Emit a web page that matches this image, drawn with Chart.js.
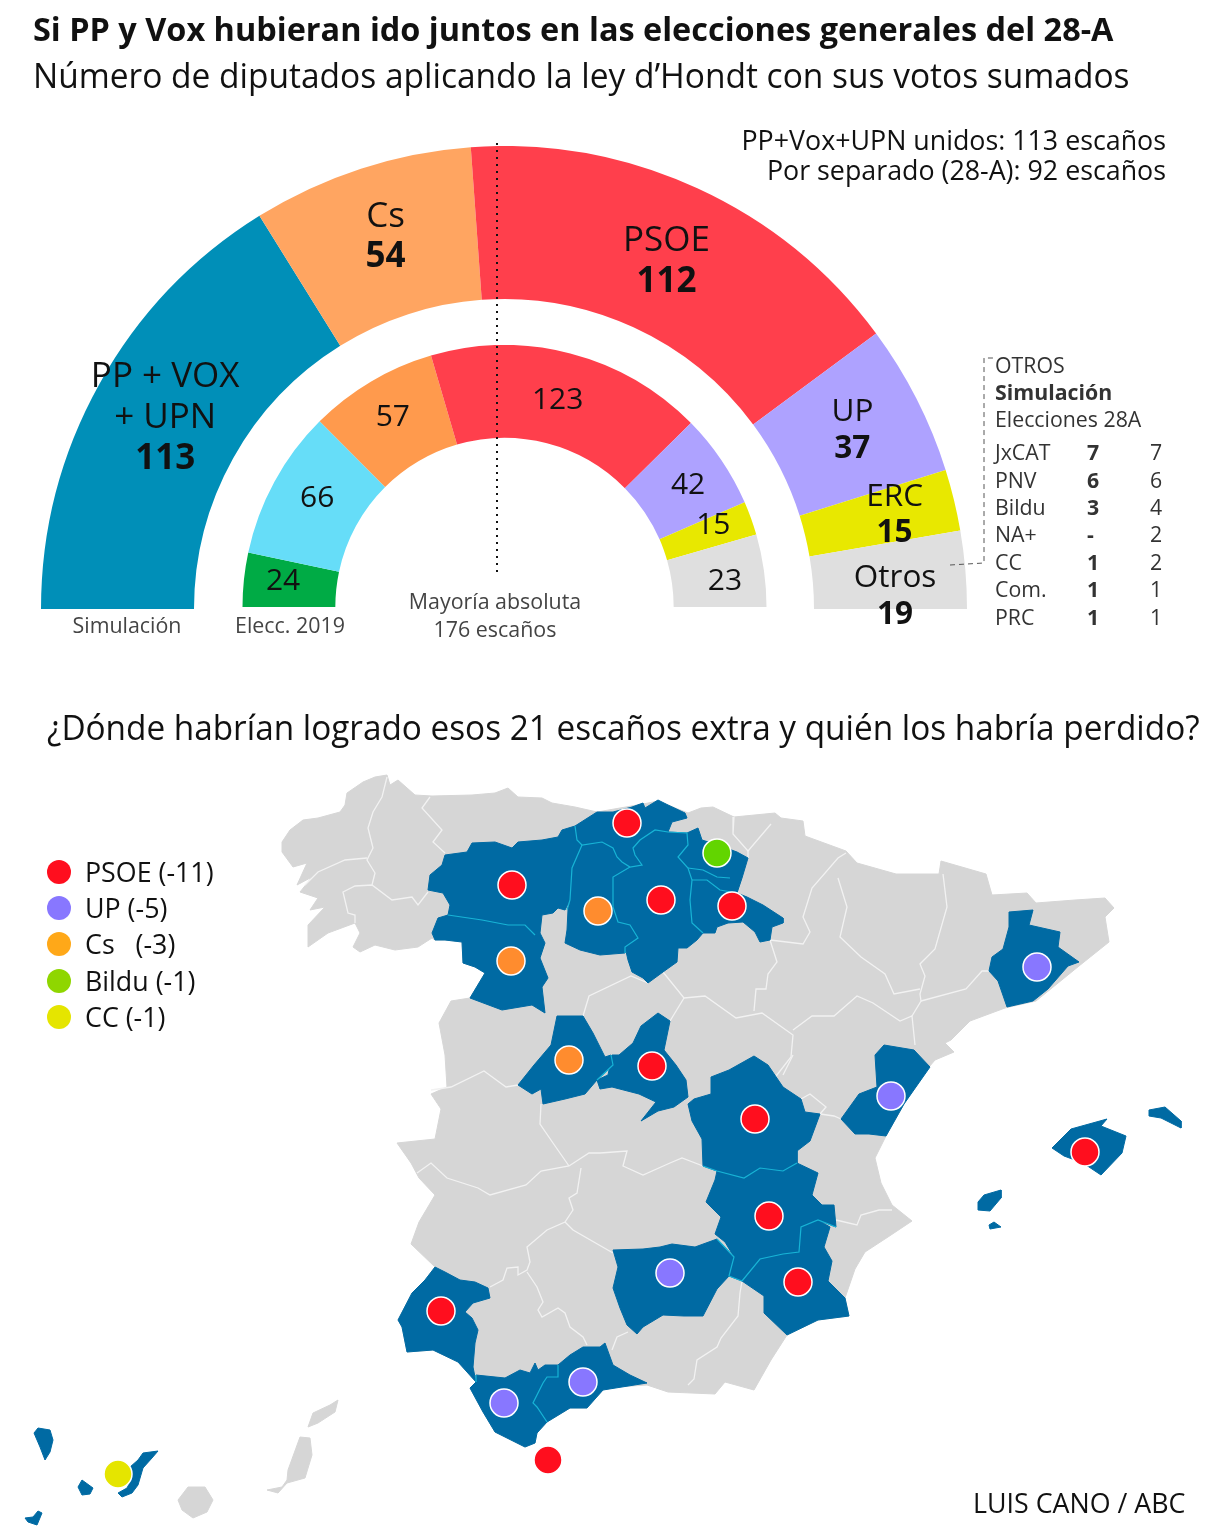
<!DOCTYPE html>
<html>
<head>
<meta charset="utf-8">
<script src="https://cdn.jsdelivr.net/npm/chart.js@4"></script>
<style>
html, body { margin: 0; padding: 0; background: #fff; }
body { position: relative; width: 1211px; height: 1529px; overflow: hidden; font-family: "Open Sans", sans-serif; color: #111; }
canvas { position: absolute; }
.t { position: absolute; white-space: nowrap; transform-origin: left center; }
.small { font-size: 21.4px; color: #444; line-height: 24px; }
.c { transform: translateX(-50%); }
</style>
</head>
<body>
<canvas id="outerRing" width="926" height="493" style="left:41px;top:146px"></canvas>
<canvas id="innerRing" width="525" height="292" style="left:242px;top:345px"></canvas>
<canvas id="mapa" width="1211" height="1529" style="left:0;top:0"></canvas>

<div class="t" style="left:33px;top:7px;font-size:33px;line-height:44px;font-weight:700;transform:scaleX(.983)">Si PP y Vox hubieran ido juntos en las elecciones generales del 28-A</div>
<div class="t" style="left:33px;top:53px;font-size:34px;line-height:44px;transform:scaleX(.985)">Número de diputados aplicando la ley d’Hondt con sus votos sumados</div>
<div class="t" style="right:45px;top:125px;font-size:26.8px;line-height:30px;text-align:right">PP+Vox+UPN unidos: 113 escaños<br>Por separado (28-A): 92 escaños</div>
<div class="t small c" style="left:127px;top:613px">Simulación</div>
<div class="t small c" style="left:290px;top:613px">Elecc. 2019</div>
<div class="t small c" style="left:495px;top:587px;line-height:28px;text-align:center">Mayoría absoluta<br>176 escaños</div>
<div class="t" style="left:47px;top:705px;font-size:34px;line-height:44px;transform:scaleX(.98)">¿Dónde habrían logrado esos 21 escaños extra y quién los habría perdido?</div>
<div class="t" style="left:973px;top:1485px;font-size:26.8px;line-height:36px">LUIS CANO / ABC</div>
<div id="otros"></div>
<div id="leyenda"></div>

<script>
// hemiciclo
const outerParties = ['PP + VOX\n+ UPN', 'Cs', 'PSOE', 'UP', 'ERC', 'Otros'];
const outerSeats = [113, 54, 112, 37, 15, 19];
const outerColors = ['#008fb8', '#ffa561', '#ff3f4c', '#aea2ff', '#e8e800', '#dfdfdf'];
const outerNudge = [[-1, -3], [1, -4], [1, 4], [4, -3], [15, -3], [6, 20]];
const outerFontSizes = [35, 35, 35, 31.5, 31.5, 31.5];
const outerLeading = [41, 40, 41, 37, 36, 37];

// en el original la porcion gris mide unos 32 aunque rotula 23
const innerArcs = [24, 66, 57, 123, 42, 15, 32];
const innerSeats = [24, 66, 57, 123, 42, 15, 23];
const innerColors = ['#00ab45', '#66ddf8', '#ff9a4d', '#ff3f4c', '#aea2ff', '#e8e800', '#dfdfdf'];
const innerNudge = [[-7, -3], [2, -5], [-2, -4], [-1, 2], [5, -1], [6, -9], [7, 5]];

// tabla de otros
const otrosNames = ['JxCAT', 'PNV', 'Bildu', 'NA+', 'CC', 'Com.', 'PRC'];
const otrosSim = ['7', '6', '3', '-', '1', '1', '1'];
const otrosElec = ['7', '6', '4', '2', '2', '1', '1'];

// leyenda del mapa
const legendNames = ['PSOE (-11)', 'UP (-5)', 'Cs\u00a0\u00a0 (-3)', 'Bildu (-1)', 'CC (-1)'];
const legendDots = [[59, 872], [59, 908], [59, 944], [59, 981], [59, 1017]];
const legendColors = ['#ff0e1e', '#8877ff', '#ffa818', '#8fd600', '#e5e500'];

// puntos por partido, en unidades del mapa
const dotsPSOE = [[627, 823], [512, 885], [661, 900], [732, 906], [652, 1066], [755, 1119], [769, 1216], [798, 1282], [441, 1311], [548, 1460], [1085, 1152]];
const dotsUP = [[670, 1273], [504, 1403], [583, 1382], [1037, 967], [891, 1096]];
const dotsCs = [[598, 911], [511, 961], [569, 1060]];
const dotsBildu = [[717, 853]];
const dotsCC = [[118, 1474]];

// contornos del mapa
const peninsula = [[282,842],[290,830],[303,820],[318,818],[340,812],[345,805],[347,793],[363,782],[375,777],[387,775],[390,785],[398,780],[415,795],[432,796],[472,795],[495,793],[508,788],[518,797],[542,798],[552,803],[575,807],[597,812],[643,804],[658,801],[688,813],[701,808],[713,807],[734,817],[775,813],[781,818],[803,821],[805,836],[846,851],[857,863],[896,874],[939,874],[941,861],[986,874],[992,895],[1027,893],[1036,903],[1075,900],[1105,898],[1114,908],[1105,917],[1109,942],[1079,966],[1036,1001],[1005,1008],[970,1021],[951,1040],[945,1043],[954,1052],[935,1060],[929,1067],[904,1104],[886,1136],[875,1158],[881,1183],[892,1205],[912,1221],[888,1237],[865,1252],[855,1269],[845,1298],[849,1316],[818,1320],[787,1335],[771,1360],[754,1390],[725,1382],[715,1394],[668,1392],[647,1385],[616,1387],[603,1390],[587,1408],[570,1408],[547,1422],[537,1433],[535,1443],[525,1447],[507,1438],[495,1432],[483,1412],[470,1388],[476,1382],[458,1362],[433,1350],[407,1352],[402,1327],[398,1320],[412,1293],[425,1280],[435,1267],[411,1244],[419,1222],[435,1195],[419,1178],[411,1163],[397,1143],[435,1139],[441,1109],[431,1094],[447,1087],[445,1055],[439,1023],[451,1001],[470,998],[485,973],[475,967],[463,963],[462,942],[445,940],[435,940],[432,938],[418,947],[395,950],[375,945],[360,952],[353,947],[360,933],[355,923],[328,933],[308,947],[308,925],[325,907],[310,910],[318,898],[300,892],[312,877],[297,885],[307,863],[293,867],[282,852]];
const granCanaria = [[178,1500],[188,1487],[205,1487],[213,1500],[207,1512],[193,1518],[182,1510]];
const fuerteventura = [[267,1490],[282,1487],[287,1480],[288,1470],[300,1437],[310,1438],[312,1455],[305,1478],[287,1483],[278,1493]];
const lanzarote = [[308,1427],[313,1413],[330,1405],[338,1400],[335,1412],[318,1423]];

const leon = [[428,890],[430,875],[442,865],[445,855],[467,852],[472,843],[495,842],[512,848],[518,842],[542,840],[558,837],[562,830],[575,826],[577,840],[582,845],[572,868],[570,900],[565,910],[558,908],[553,913],[542,915],[540,933],[535,935],[525,925],[508,925],[482,920],[448,915],[450,905],[443,893]];
const zamora = [[432,933],[438,918],[448,915],[482,920],[508,925],[525,925],[535,935],[540,933],[545,943],[540,958],[548,978],[542,987],[545,1013],[532,1005],[502,1010],[470,998],[485,973],[475,967],[463,963],[462,942],[445,940],[435,940]];
const palencia = [[582,845],[602,842],[613,848],[617,857],[622,862],[630,867],[613,877],[613,907],[618,922],[630,925],[638,938],[625,947],[625,953],[600,955],[580,950],[565,943],[567,930],[568,910],[570,900],[572,868]];
const cantabria = [[575,826],[597,812],[613,812],[632,807],[643,803],[645,808],[658,800],[668,805],[685,813],[687,818],[672,822],[668,832],[655,830],[640,840],[633,848],[635,855],[642,865],[630,867],[622,862],[617,857],[613,848],[602,842],[582,845],[577,840]];
const burgos = [[668,832],[687,833],[688,845],[678,857],[688,868],[692,880],[690,900],[692,923],[703,933],[697,940],[687,948],[678,948],[677,962],[663,972],[648,983],[643,978],[632,972],[628,960],[625,947],[638,938],[630,925],[618,922],[613,907],[613,877],[630,867],[642,865],[635,855],[633,848],[640,840],[655,830]];
const alava = [[687,833],[698,828],[702,840],[718,845],[737,852],[748,858],[742,878],[737,893],[720,890],[707,880],[692,880],[688,868],[678,857],[688,845]];
const rioja = [[692,880],[707,880],[720,890],[737,893],[747,897],[763,905],[783,918],[783,923],[772,927],[770,940],[760,942],[755,932],[743,922],[728,923],[717,927],[715,933],[703,933],[692,923],[690,900]];
const avila = [[557,1016],[583,1016],[593,1033],[605,1057],[611,1055],[613,1065],[597,1080],[585,1094],[565,1099],[543,1104],[541,1089],[532,1094],[518,1085],[534,1065],[551,1045]];
const madrid = [[658,1013],[670,1021],[664,1050],[676,1065],[686,1080],[688,1097],[674,1107],[658,1111],[641,1121],[656,1102],[639,1094],[612,1087],[600,1089],[597,1080],[608,1075],[612,1055],[619,1055],[633,1043],[641,1026]];
const cuenca = [[711,1077],[729,1070],[754,1056],[768,1065],[783,1087],[801,1099],[805,1112],[820,1114],[810,1141],[797,1151],[797,1163],[783,1171],[760,1168],[744,1178],[717,1171],[703,1166],[702,1139],[692,1121],[688,1104],[694,1099],[711,1094]];
const albacete = [[717,1171],[744,1178],[760,1168],[783,1171],[797,1163],[818,1173],[812,1195],[822,1205],[834,1205],[836,1227],[818,1220],[801,1227],[799,1252],[783,1254],[760,1259],[742,1281],[729,1276],[734,1257],[725,1242],[715,1234],[721,1217],[706,1202],[715,1180]];
const murcia = [[742,1281],[760,1259],[783,1254],[799,1252],[801,1227],[818,1220],[830,1227],[824,1247],[832,1261],[828,1281],[845,1298],[849,1316],[818,1320],[787,1335],[764,1313],[764,1296]];
const jaen = [[613,1250],[643,1249],[660,1247],[672,1244],[695,1247],[717,1239],[734,1257],[729,1276],[717,1289],[703,1316],[684,1316],[663,1315],[643,1327],[637,1334],[627,1325],[620,1308],[613,1288],[618,1267]];
const huelva = [[435,1267],[445,1272],[460,1280],[475,1282],[488,1288],[490,1298],[473,1303],[465,1312],[472,1318],[478,1330],[475,1343],[473,1367],[476,1382],[458,1362],[433,1350],[407,1352],[402,1327],[398,1320],[412,1293],[425,1280]];
const cadiz = [[476,1375],[505,1378],[520,1370],[530,1373],[535,1363],[538,1370],[545,1365],[558,1365],[558,1377],[547,1377],[543,1383],[533,1403],[537,1407],[547,1422],[537,1433],[535,1443],[525,1447],[507,1438],[495,1432],[483,1412],[470,1388],[476,1382]];
const malaga = [[558,1365],[570,1355],[583,1347],[600,1347],[605,1343],[613,1365],[630,1375],[647,1383],[603,1390],[587,1408],[570,1408],[547,1422],[537,1407],[533,1403],[543,1383],[547,1377],[558,1377]];
const barcelona = [[1009,912],[1033,910],[1029,925],[1060,932],[1058,947],[1079,962],[1068,966],[1048,989],[1033,1001],[1007,1007],[998,981],[989,971],[992,957],[1003,949],[1009,927]];
const castellon = [[884,1045],[914,1050],[930,1067],[904,1104],[886,1136],[869,1134],[855,1134],[841,1119],[859,1094],[877,1087],[875,1055]];
const mallorca = [[1052,1148],[1071,1129],[1107,1119],[1101,1126],[1126,1136],[1122,1153],[1101,1175],[1083,1163],[1064,1156]];
const menorca = [[1149,1110],[1165,1107],[1181,1121],[1181,1128],[1161,1118],[1149,1116]];
const ibiza = [[978,1202],[984,1195],[1001,1190],[1001,1198],[990,1211],[978,1210]];
const formentera = [[989,1225],[994,1222],[1001,1227],[990,1229]];
const laPalma = [[34,1433],[38,1428],[50,1430],[53,1440],[50,1452],[45,1460],[40,1447]];
const gomera = [[78,1487],[82,1480],[93,1488],[90,1494],[82,1495]];
const hierro = [[25,1518],[33,1517],[38,1511],[42,1513],[37,1525],[28,1522]];
const tenerife = [[158,1451],[143,1453],[138,1460],[130,1467],[132,1478],[127,1488],[118,1493],[122,1497],[132,1493],[138,1485],[143,1468],[152,1458]];

const grayShapes = [peninsula, granCanaria, fuerteventura, lanzarote];
const blueShapes = [leon, zamora, palencia, cantabria, burgos, alava, rioja, avila, madrid, cuenca, albacete, murcia, jaen, huelva, cadiz, malaga, barcelona, castellon, mallorca, menorca, ibiza, formentera, laPalma, gomera, hierro, tenerife];

// fronteras provinciales
const whiteBorders = [
  [[387,777],[382,797],[373,812],[368,828],[373,848],[367,860],[375,873],[372,885]],
  [[305,885],[318,872],[345,860],[367,858]],
  [[355,923],[355,915],[348,913],[343,892],[355,886],[372,885],[392,900],[412,897],[418,905],[428,892]],
  [[430,797],[422,808],[442,830],[433,842],[445,853]],
  [[431,1090],[451,1087],[484,1071],[506,1087],[518,1085]],
  [[541,1104],[540,1124],[553,1143],[569,1166]],
  [[417,1173],[431,1163],[447,1178],[478,1188],[490,1195],[526,1185],[541,1171],[569,1166],[589,1153],[600,1153],[627,1151],[623,1166],[643,1175],[670,1163],[682,1158],[703,1166]],
  [[581,1168],[577,1193],[569,1198],[573,1210],[565,1222],[547,1230],[527,1247],[530,1262],[527,1270],[518,1275],[518,1267],[507,1268],[503,1280],[490,1287]],
  [[565,1222],[573,1230],[613,1253]],
  [[527,1272],[537,1287],[543,1302],[538,1310],[542,1317],[558,1308],[565,1313],[570,1327],[583,1337],[587,1345]],
  [[742,1281],[740,1293],[738,1316],[721,1338],[717,1347],[697,1360],[694,1379],[688,1385]],
  [[628,1332],[617,1337],[612,1350]],
  [[648,983],[631,976],[589,996],[583,1016]],
  [[663,972],[684,998],[705,996],[736,1018],[762,1013],[793,1035],[791,1057],[773,1080]],
  [[670,1021],[684,998]],
  [[770,940],[777,962],[768,974],[766,989],[756,989],[754,1011]],
  [[793,1030],[812,1016],[834,1016],[857,996],[873,1003],[900,1021],[912,1016],[915,1045]],
  [[770,940],[803,944],[810,932],[803,917],[812,888],[838,858],[846,853]],
  [[943,874],[947,907],[935,949],[920,964],[925,976],[920,994],[921,1001],[912,1016]],
  [[838,878],[847,907],[840,937],[861,957],[885,974],[894,994],[920,989]],
  [[921,1001],[966,989],[982,971],[989,971]],
  [[820,1114],[834,1116],[841,1119]],
  [[801,1099],[810,1094],[826,1107],[820,1114]],
  [[783,1075],[793,1055]],
  [[836,1220],[857,1225],[861,1215],[879,1210],[892,1210]],
  [[734,817],[733,834],[748,851],[771,824]],
  [[748,858],[748,851]]
];
const cyanBorders = [
  [[448,915],[482,920],[508,925],[525,925],[535,935]],
  [[575,826],[577,840],[582,845],[602,842],[613,848],[617,857],[622,862],[630,867],[642,865],[635,855],[633,848],[640,840],[655,830],[668,832],[687,833],[688,845],[678,857],[688,868],[692,880],[690,900],[692,923],[703,933]],
  [[582,845],[572,868],[570,900],[567,910]],
  [[630,867],[613,877],[613,907],[618,922],[630,925],[638,938],[625,947],[625,953]],
  [[692,880],[707,880],[720,890],[737,893]],
  [[688,868],[703,870],[717,877],[730,878]],
  [[597,1080],[613,1065],[611,1055]],
  [[703,1166],[717,1171],[744,1178],[760,1168],[783,1171],[797,1163]],
  [[742,1281],[760,1259],[783,1254],[799,1252],[801,1227],[818,1220],[836,1227]],
  [[717,1239],[734,1257],[729,1276],[742,1281]],
  [[558,1365],[558,1377],[547,1377],[543,1383],[533,1403],[537,1407],[547,1422]],
  [[476,1375],[476,1382]]
];

// lineas de apoyo
const mayoriaLine = [[497, 143], [497, 575]];
const otrosBracket = [[950, 565], [984, 563], [984, 358], [995, 358]];

const toPts = arr => arr.map(p => ({ x: p[0], y: p[1] }));
const closed = arr => toPts(arr.concat([arr[0]]));

const arcLabels = {
  id: 'arcLabels',
  afterDatasetsDraw(chart, args, opts) {
    const ctx = chart.ctx;
    ctx.save();
    ctx.textAlign = 'center';
    ctx.textBaseline = 'middle';
    ctx.fillStyle = '#111';
    chart.getDatasetMeta(0).data.forEach((arc, i) => {
      const p = arc.tooltipPosition();
      const names = opts.names ? opts.names[i].split('\n') : [];
      const size = opts.sizes[i];
      const leading = opts.leading ? opts.leading[i] : 0;
      const x = p.x + opts.nudge[i][0];
      let y = p.y + opts.nudge[i][1] - names.length * leading / 2;
      names.forEach(n => {
        ctx.font = size + 'px "Open Sans"';
        ctx.fillText(n, x, y);
        y += leading;
      });
      ctx.font = opts.weight + ' ' + size + 'px "Open Sans"';
      ctx.fillText(opts.values[i], x, y);
    });
    ctx.restore();
  }
};

function ring(id, arcs, colors, cutout, labels) {
  return new Chart(document.getElementById(id), {
    type: 'doughnut',
    data: { labels: arcs.map((s, i) => i), datasets: [{ data: arcs, backgroundColor: colors, borderWidth: 0 }] },
    options: {
      responsive: false,
      animation: false,
      events: [],
      rotation: -90,
      circumference: 180,
      cutout: cutout,
      layout: { padding: { bottom: 30 } },
      plugins: { legend: { display: false }, tooltip: { enabled: false }, arcLabels: labels }
    },
    plugins: [arcLabels]
  });
}
ring('outerRing', outerSeats, outerColors, (310 / 463 * 100) + '%', { names: outerParties, values: outerSeats, nudge: outerNudge, sizes: outerFontSizes, leading: outerLeading, weight: '700' });
ring('innerRing', innerArcs, innerColors, (169.5 / 262.5 * 100) + '%', { values: innerSeats, nudge: innerNudge, sizes: innerSeats.map(() => 30), weight: '400' });

// capa del mapa
const datasets = [];
function addDots(points, color, edge) {
  datasets.push({ data: toPts(points), showLine: false, pointRadius: 14, pointBackgroundColor: color, pointBorderColor: edge, pointBorderWidth: 1.5 });
}
addDots(dotsPSOE, '#ff0e1e', '#fff');
addDots(dotsUP, '#8877ff', '#fff');
addDots(dotsCs, '#ff8c2e', '#fff');
addDots(dotsBildu, '#62d500', '#fff');
addDots(dotsCC, '#e5e500', '#fff');
datasets.push({ data: toPts(legendDots), showLine: false, pointRadius: 12, pointBackgroundColor: legendColors, pointBorderWidth: 0 });
datasets.push({ data: toPts(mayoriaLine), showLine: true, pointRadius: 0, borderColor: '#111', borderWidth: 2, borderDash: [2, 5] });
datasets.push({ data: toPts(otrosBracket), showLine: true, pointRadius: 0, borderColor: '#555', borderWidth: 1, borderDash: [5, 4] });
cyanBorders.forEach(b => datasets.push({ data: toPts(b), showLine: true, pointRadius: 0, borderColor: '#17b4d6', borderWidth: 1.2 }));
blueShapes.forEach(s => datasets.push({ data: closed(s), showLine: true, pointRadius: 0, fill: 'shape', backgroundColor: '#006aa3', borderColor: '#006aa3', borderWidth: 1 }));
whiteBorders.forEach(b => datasets.push({ data: toPts(b), showLine: true, pointRadius: 0, borderColor: '#f2f2f2', borderWidth: 1.3 }));
grayShapes.forEach(s => datasets.push({ data: closed(s), showLine: true, pointRadius: 0, fill: 'shape', backgroundColor: '#d6d6d6', borderColor: '#d6d6d6', borderWidth: 1 }));

new Chart(document.getElementById('mapa'), {
  type: 'scatter',
  data: { datasets: datasets },
  options: {
    responsive: false,
    animation: false,
    events: [],
    layout: { padding: 0, autoPadding: false },
    scales: {
      x: { type: 'linear', min: 0, max: 1211, display: false },
      y: { type: 'linear', min: 0, max: 1529, reverse: true, display: false }
    },
    plugins: { legend: { display: false }, tooltip: { enabled: false } }
  }
});

// textos de la tabla y la leyenda
function addText(parent, txt, left, centerY, css) {
  const d = document.createElement('div');
  d.className = 't';
  d.textContent = txt;
  d.style.cssText = 'left:' + left + 'px;top:' + (centerY - 14) + 'px;line-height:28px;' + css;
  parent.appendChild(d);
}
const otros = document.getElementById('otros');
const base = 'font-size:21.3px;color:#333;';
addText(otros, 'OTROS', 995, 365, base);
addText(otros, 'Simulación', 995, 392, base + 'font-weight:700;');
addText(otros, 'Elecciones 28A', 995, 419, base);
const rowY = [452, 480, 507, 534, 562, 589, 617];
otrosNames.forEach((n, i) => {
  addText(otros, n, 995, rowY[i], base);
  addText(otros, otrosSim[i], 1087, rowY[i], base + 'font-weight:700;');
  addText(otros, otrosElec[i], 1150, rowY[i], base);
});
const leyenda = document.getElementById('leyenda');
legendNames.forEach((n, i) => addText(leyenda, n, 85, legendDots[i][1] + 0, 'font-size:26.8px;'));
</script>
</body>
</html>
